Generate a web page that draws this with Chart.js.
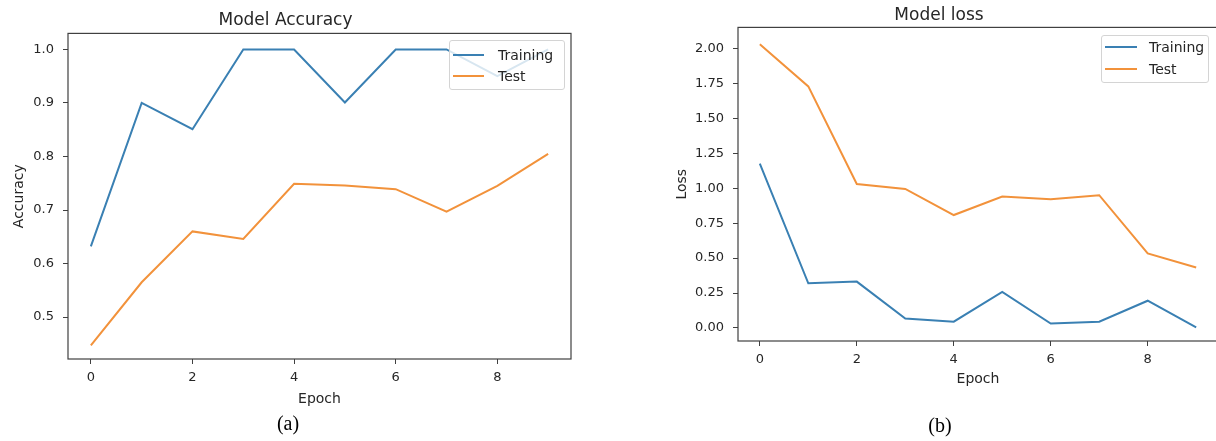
<!DOCTYPE html>
<html>
<head>
<meta charset="utf-8">
<script src="https://cdn.jsdelivr.net/npm/chart.js@4.4.1/dist/chart.umd.min.js"></script>
<style>
  html, body { margin: 0; padding: 0; background: #fff; overflow: hidden; }
  #page { position: relative; width: 1216px; height: 441px; overflow: hidden; }
  .panel { position: absolute; top: 0; height: 441px; }
  #accPanel { left: 0; width: 600px; }
  #lossPanel { left: 600px; width: 620px; }
  .legend {
    position: absolute; box-sizing: border-box;
    background: rgba(255, 255, 255, 0.8);
    border: 1px solid #d4d4d4; border-radius: 3px;
    font: 14px "DejaVu Sans", sans-serif; color: #262626;
  }
  .legend-row { display: flex; align-items: center; }
  .legend-swatch { display: inline-block; height: 2px; }
  .caption {
    position: absolute; transform: translate(-50%, -50%);
    font: 20px "Liberation Serif", "Times New Roman", serif; color: #000;
  }
</style>
</head>
<body>
<div id="page">
  <div class="panel" id="accPanel"><canvas id="accChart" width="600" height="441"></canvas></div>
  <div class="panel" id="lossPanel"><canvas id="lossChart" width="620" height="441"></canvas></div>
  <div class="legend" id="accLegend" style="left:449px; top:40px; width:116px; height:50px; padding-top:3px;"></div>
  <div class="legend" id="lossLegend" style="left:1101px; top:35px; width:108px; height:48px; padding-top:0px;"></div>
  <div class="caption" style="left:288px; top:423px;">(a)</div>
  <div class="caption" style="left:940px; top:425px;">(b)</div>
</div>
<script>
// Data
const epochs = [0, 1, 2, 3, 4, 5, 6, 7, 8, 9];
const accTraining = [0.632, 0.900, 0.851, 1.000, 1.000, 0.901, 1.000, 1.000, 0.950, 1.000];
const accTest = [0.447, 0.565, 0.660, 0.646, 0.749, 0.746, 0.739, 0.697, 0.745, 0.805];
const lossTraining = [1.175, 0.320, 0.332, 0.068, 0.045, 0.258, 0.032, 0.045, 0.195, 0.005];
const lossTest = [2.030, 1.728, 1.030, 0.995, 0.808, 0.940, 0.920, 0.950, 0.533, 0.433];
const seriesNames = ['Training', 'Test'];
const xTicks = [0, 2, 4, 6, 8];
const accTicks = [0.5, 0.6, 0.7, 0.8, 0.9, 1.0];
const lossTicks = [0, 0.25, 0.5, 0.75, 1.0, 1.25, 1.5, 1.75, 2.0];

const colors = ['#3a80b3', '#f2923b'];
const textColor = '#262626';
const axisColor = '#404040';
const fontFamily = '"DejaVu Sans", sans-serif';

// draws the box round the plot area
const framePlugin = {
  id: 'frame',
  afterDatasetsDraw(chart) {
    const a = chart.chartArea;
    const ctx = chart.ctx;
    ctx.save();
    ctx.strokeStyle = axisColor;
    ctx.lineWidth = 1.2;
    ctx.strokeRect(a.left, a.top, a.right - a.left, a.bottom - a.top);
    ctx.restore();
  }
};

function points(values) {
  return epochs.map((e, i) => ({ x: e, y: values[i] }));
}

function makeChart(id, cfg) {
  const ctx = document.getElementById(id).getContext('2d');
  return new Chart(ctx, {
    type: 'line',
    data: {
      datasets: [
        { label: seriesNames[0], data: points(cfg.training), borderColor: colors[0], backgroundColor: colors[0] },
        { label: seriesNames[1], data: points(cfg.test), borderColor: colors[1], backgroundColor: colors[1] }
      ]
    },
    options: {
      responsive: false,
      animation: false,
      elements: {
        point: { radius: 0 },
        line: { borderWidth: 2, tension: 0 }
      },
      layout: { padding: cfg.padding },
      plugins: {
        legend: { display: false },
        tooltip: { enabled: false },
        title: {
          display: true,
          text: cfg.title,
          color: textColor,
          font: { family: fontFamily, size: 17, weight: 'normal' },
          padding: cfg.titlePadding
        }
      },
      scales: {
        x: {
          type: 'linear',
          min: -0.45,
          max: 9.45,
          afterBuildTicks: axis => { axis.ticks = xTicks.map(v => ({ value: v })); },
          afterFit: scale => { scale.height = cfg.xHeight; },
          grid: { display: true, drawOnChartArea: false, tickLength: 5, tickColor: axisColor },
          border: { display: false },
          ticks: { color: textColor, font: { family: fontFamily, size: 13 }, padding: 6 },
          title: {
            display: true, text: 'Epoch', color: textColor,
            font: { family: fontFamily, size: 14 },
            padding: { top: 0, bottom: cfg.xTitlePad }
          }
        },
        y: {
          min: cfg.yMin,
          max: cfg.yMax,
          afterBuildTicks: axis => { axis.ticks = cfg.yTicks.map(v => ({ value: v })); },
          afterFit: scale => { scale.width = cfg.yWidth; },
          grid: { display: true, drawOnChartArea: false, tickLength: 5, tickColor: axisColor },
          border: { display: false },
          ticks: {
            color: textColor, font: { family: fontFamily, size: 13 }, padding: 9,
            callback: v => v.toFixed(cfg.decimals)
          },
          title: {
            display: true, text: cfg.yLabel, color: textColor,
            font: { family: fontFamily, size: 14 },
            padding: { top: cfg.yTitlePad, bottom: 0 }
          }
        }
      }
    },
    plugins: [framePlugin]
  });
}

const accChart = makeChart('accChart', {
  title: 'Model Accuracy',
  training: accTraining,
  test: accTest,
  yLabel: 'Accuracy',
  yTicks: accTicks,
  yMin: 0.4216,
  yMax: 1.030,
  decimals: 1,
  padding: { left: 0, right: 29, top: 0, bottom: 32 },
  titlePadding: { top: 10, bottom: 3 },
  xHeight: 50,
  xTitlePad: 1,
  yWidth: 68,
  yTitlePad: 11
});

const lossChart = makeChart('lossChart', {
  title: 'Model loss',
  training: lossTraining,
  test: lossTest,
  yLabel: 'Loss',
  yTicks: lossTicks,
  yMin: -0.093,
  yMax: 2.15,
  decimals: 2,
  padding: { left: 60, right: 2, top: 0, bottom: 50 },
  titlePadding: { top: 5, bottom: 2 },
  xHeight: 50,
  xTitlePad: 3,
  yWidth: 78,
  yTitlePad: 14
});

// legend boxes built from the datasets
function buildLegend(chart, elId, rowHeight, swatchWidth, gap) {
  const box = document.getElementById(elId);
  chart.data.datasets.forEach(ds => {
    const row = document.createElement('div');
    row.className = 'legend-row';
    row.style.height = rowHeight + 'px';
    const sw = document.createElement('span');
    sw.className = 'legend-swatch';
    sw.style.width = swatchWidth + 'px';
    sw.style.marginLeft = '3px';
    sw.style.marginRight = gap + 'px';
    sw.style.background = ds.borderColor;
    const label = document.createElement('span');
    label.textContent = ds.label;
    row.appendChild(sw);
    row.appendChild(label);
    box.appendChild(row);
  });
}
buildLegend(accChart, 'accLegend', 21, 31, 14);
buildLegend(lossChart, 'lossLegend', 22, 32, 12);
</script>
</body>
</html>
